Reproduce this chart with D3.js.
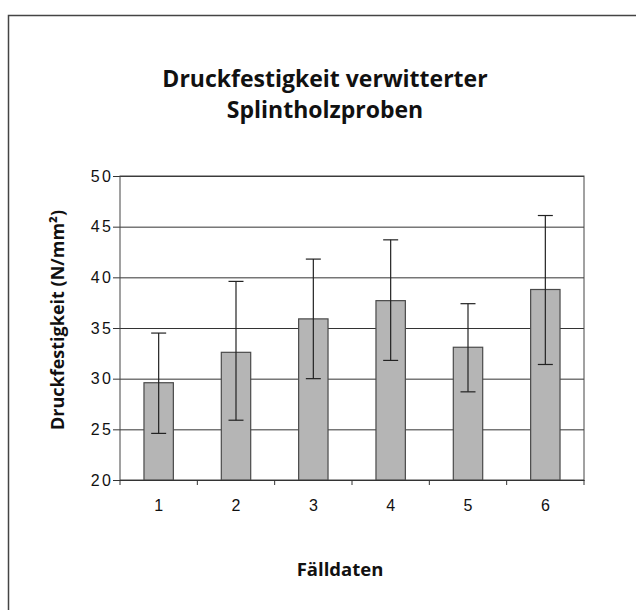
<!DOCTYPE html>
<html><head><meta charset="utf-8">
<script src="https://cdn.jsdelivr.net/npm/d3@7"></script>
<style>body{margin:0;background:#fff;} svg{display:block;}</style>
</head><body>
<svg id="chart" width="636" height="610"></svg>
<script>
const categories = ["1","2","3","4","5","6"];
const means = [29.6, 32.6, 35.9, 37.7, 33.1, 38.8];
const errPlus = [4.9, 7.0, 5.9, 6.0, 4.3, 7.3];
const errMinus = [5.0, 6.7, 5.9, 5.9, 4.4, 7.4];
const yTicks = [20, 25, 30, 35, 40, 45, 50];
const titleLines = ["Druckfestigkeit verwitterter", "Splintholzproben"];
const xTitle = "Fälldaten";
const yTitle = "Druckfestigkeit (N/mm²)";

const svg = d3.select("#chart");
const L = 120, R = 584, T = 176, B = 480;

// frame
svg.append("path").attr("d", `M8.5,640 V15.5 H640`).attr("fill","none").attr("stroke","#444").attr("stroke-width",1.5);

const x = d3.scaleBand().domain(categories).range([L, R]).paddingInner(0.62).paddingOuter(0.31);
const y = d3.scaleLinear().domain([20, 50]).range([B, T]);

// gridlines + y ticks
const gy = svg.append("g").attr("transform", `translate(${L},0)`)
  .call(d3.axisLeft(y).tickValues(yTicks).tickSize(-(R-L)).tickSizeOuter(0).tickPadding(9).tickFormat(d3.format("d")));
gy.select(".domain").remove();
gy.selectAll(".tick line").attr("stroke","#333").attr("stroke-width",1).attr("x1",-7);
gy.selectAll(".tick text").attr("font-family","Liberation Sans, Arial, sans-serif").attr("font-size",16)
  .attr("fill","#111").attr("letter-spacing","2.5px").attr("dx", "2.5");

// plot border
svg.append("rect").attr("x",L).attr("y",T).attr("width",R-L).attr("height",B-T)
  .attr("fill","none").attr("stroke","#444").attr("stroke-width",1);

// bars
svg.append("g").selectAll("rect").data(categories).join("rect")
  .attr("x", d => x(d)).attr("width", x.bandwidth())
  .attr("y", (d,i) => y(means[i])).attr("height", (d,i) => y(20) - y(means[i]))
  .attr("fill","#b5b5b5").attr("stroke","#4a4a4a").attr("stroke-width",1.2);

// error bars
const eg = svg.append("g").attr("stroke","#222").attr("stroke-width",1.2);
categories.forEach((c,i) => {
  const cx = x(c) + x.bandwidth()/2;
  const yt = y(means[i] + errPlus[i]), yb = y(means[i] - errMinus[i]);
  eg.append("line").attr("x1",cx).attr("x2",cx).attr("y1",yt).attr("y2",yb);
  eg.append("line").attr("x1",cx-7.5).attr("x2",cx+7.5).attr("y1",yt).attr("y2",yt);
  eg.append("line").attr("x1",cx-7.5).attr("x2",cx+7.5).attr("y1",yb).attr("y2",yb);
});

// x axis
const gx = svg.append("g").attr("transform", `translate(0,${B})`)
  .call(d3.axisBottom(x).tickSize(0).tickPadding(20));
gx.select(".domain").attr("stroke","#333").attr("stroke-width",1.2);
gx.selectAll(".tick text").attr("font-family","Liberation Sans, Arial, sans-serif").attr("font-size",16).attr("fill","#111");
// boundary ticks
const step = x.step();
svg.append("g").selectAll("line").data(d3.range(categories.length+1)).join("line")
  .attr("x1", i => L + i*step).attr("x2", i => L + i*step)
  .attr("y1", B).attr("y2", B+5).attr("stroke","#333").attr("stroke-width",1);

// titles
const tf = "Open Sans, Noto Sans, sans-serif";
svg.append("g").selectAll("text").data(titleLines).join("text")
  .attr("x", 325).attr("y", (d,i) => 87 + i*31).attr("text-anchor","middle")
  .attr("font-family", tf).attr("font-weight", 700).attr("font-size", 23).attr("fill","#111")
  .text(d => d);

svg.append("text").attr("x", 340).attr("y", 576).attr("text-anchor","middle")
  .attr("font-family", tf).attr("font-weight", 700).attr("font-size", 18.5).attr("fill","#111").text(xTitle);

svg.append("text").attr("transform", "translate(64,320) rotate(-90)").attr("text-anchor","middle")
  .attr("font-family", tf).attr("font-weight", 700).attr("font-size", 18).attr("fill","#111").text(yTitle);
</script>
</body></html>
